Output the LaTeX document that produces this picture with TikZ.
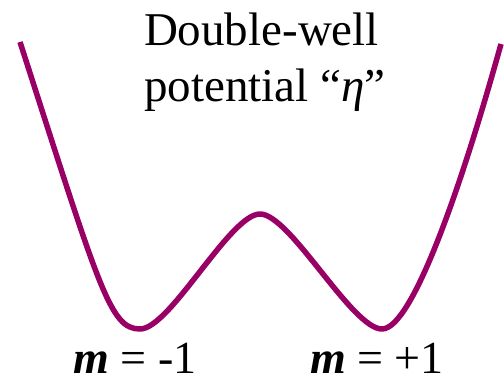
\documentclass[tikz,border=0pt]{standalone}
\usepackage{fontspec}
\setmainfont{Liberation Serif}
\definecolor{wellcol}{HTML}{990066}
\begin{document}
\begin{tikzpicture}[x=1pt,y=-1pt,
  curvestyle/.style={draw=wellcol,line width=5.5pt,line join=round},
  titletext/.style={inner sep=0pt,anchor=base,font=\fontsize{47}{56}\selectfont},
  labeltext/.style={inner sep=0pt,anchor=base,font=\fontsize{46}{55}\selectfont}]
\useasboundingbox (0,0) rectangle (504,378);
\coordinate (top1) at (20,42);
\coordinate (min1) at (140,329);
\coordinate (max0) at (260,214);
\coordinate (min2) at (382,329);
\coordinate (top2) at (501,44);
\draw[curvestyle] (top1)
  .. controls (100,290) and (110,329) .. (min1)
  .. controls (170,329) and (230,214) .. (max0)
  .. controls (290,214) and (352,329) .. (min2)
  .. controls (412,329) and (461,188) .. (top2);
\node[titletext] (t1) at (261.5,45) {Double-well};
\node[titletext] (t2) at (265,101) {potential “\textit{η}”};
\node[labeltext] (m1) at (135,373) {\textbf{\textit{m}} = -1};
\node[labeltext] (m2) at (377,373) {\textbf{\textit{m}} = +1};
\end{tikzpicture}
\end{document}
